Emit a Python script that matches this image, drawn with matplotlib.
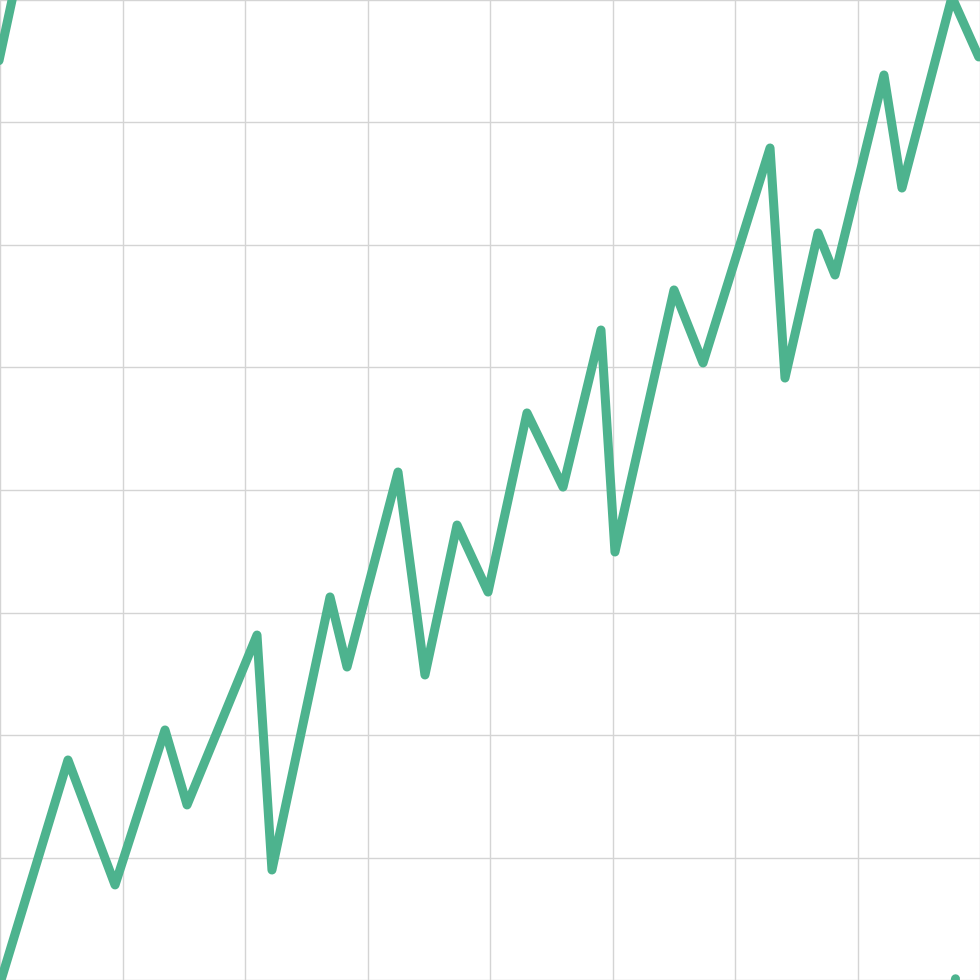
import matplotlib
matplotlib.use("Agg")
import matplotlib.pyplot as plt

# main zigzag series (grid units, 8x8 cells)
x_main = [-0.04, 0.555, 0.939, 1.347, 1.527, 2.098, 2.220, 2.694, 2.833,
          3.249, 3.469, 3.731, 3.984, 4.302, 4.596, 4.906, 5.020, 5.502,
          5.739, 6.286, 6.408, 6.678, 6.816, 7.216, 7.363, 7.771, 7.990]
y_main = [-0.16, 1.796, 0.776, 2.041, 1.429, 2.816, 0.898, 3.127, 2.555,
          4.147, 2.490, 3.714, 3.167, 4.629, 4.024, 5.306, 3.494, 5.633,
          5.037, 6.792, 4.914, 6.098, 5.755, 7.388, 6.465, 8.024, 7.535]

# fragments poking in at the corners
x_top = [-0.02, 0.12]
y_top = [7.45, 8.10]
x_corner = [7.79, 7.80]
y_corner = [-0.05, 0.01]

line_color = "#4DB38E"

fig = plt.figure(figsize=(9.8, 9.8), dpi=100)
ax = fig.add_axes([0, 0, 1, 1])
ax.set_xlim(0, 8)
ax.set_ylim(0, 8)
ax.set_xticks(range(0, 9))
ax.set_yticks(range(0, 9))
ax.grid(True, color="#d4d4d4", linewidth=1.0)
ax.tick_params(length=0, labelbottom=False, labelleft=False)
for s in ax.spines.values():
    s.set_visible(False)

for xs, ys in [(x_main, y_main), (x_top, y_top), (x_corner, y_corner)]:
    ax.plot(xs, ys, color=line_color, linewidth=6.5,
            solid_capstyle="round", solid_joinstyle="round")

fig.savefig("out.png", dpi=100)
